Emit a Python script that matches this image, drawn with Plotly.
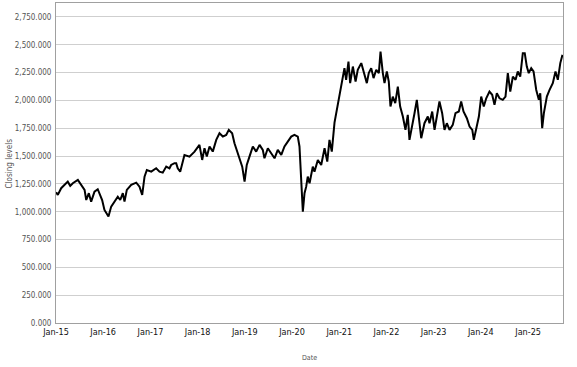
import plotly.graph_objects as go

dates = [
    "2015-01-02", "2015-01-15", "2015-02-10", "2015-03-07", "2015-04-02", "2015-04-21",
    "2015-05-11", "2015-06-19", "2015-07-15", "2015-08-10", "2015-08-23", "2015-09-12",
    "2015-09-30", "2015-10-26", "2015-11-20", "2015-12-09", "2015-12-24", "2016-01-11",
    "2016-01-29", "2016-02-11", "2016-03-03", "2016-03-29", "2016-04-23", "2016-05-12",
    "2016-06-01", "2016-06-14", "2016-07-02", "2016-08-05", "2016-09-13", "2016-10-08",
    "2016-10-29", "2016-11-16", "2016-12-04", "2017-01-07", "2017-02-14", "2017-03-12",
    "2017-04-06", "2017-05-03", "2017-05-28", "2017-06-10", "2017-07-06", "2017-07-19",
    "2017-07-31", "2017-08-19", "2017-09-21", "2017-10-30", "2017-12-08", "2018-01-15",
    "2018-02-05", "2018-02-23", "2018-03-13", "2018-04-03", "2018-04-28", "2018-05-25",
    "2018-06-19", "2018-07-15", "2018-08-10", "2018-08-30", "2018-09-25", "2018-10-13",
    "2018-11-08", "2018-11-26", "2018-12-12", "2018-12-30", "2019-01-16", "2019-02-06",
    "2019-03-04", "2019-03-30", "2019-04-25", "2019-05-20", "2019-06-02", "2019-06-28",
    "2019-07-24", "2019-08-19", "2019-09-13", "2019-10-10", "2019-11-04", "2019-11-30",
    "2019-12-26", "2020-01-20", "2020-02-15", "2020-02-28", "2020-03-12", "2020-03-25",
    "2020-04-07", "2020-04-20", "2020-05-02", "2020-05-16", "2020-06-10", "2020-06-23",
    "2020-07-19", "2020-08-14", "2020-09-09", "2020-09-30", "2020-10-17", "2020-11-04",
    "2020-11-25", "2020-12-21", "2021-01-16", "2021-02-10", "2021-02-23", "2021-03-13",
    "2021-03-26", "2021-04-16", "2021-05-07", "2021-05-24", "2021-06-20", "2021-07-15",
    "2021-08-02", "2021-08-17", "2021-09-05", "2021-09-23", "2021-10-14", "2021-11-03",
    "2021-11-16", "2021-12-04", "2021-12-17", "2022-01-04", "2022-01-19", "2022-02-01",
    "2022-02-19", "2022-03-10", "2022-03-30", "2022-04-17", "2022-05-08", "2022-05-28",
    "2022-06-15", "2022-06-28", "2022-07-19", "2022-08-06", "2022-08-24", "2022-09-08",
    "2022-09-27", "2022-10-22", "2022-11-17", "2022-11-30", "2022-12-21", "2023-01-08",
    "2023-02-02", "2023-02-15", "2023-03-08", "2023-03-26", "2023-04-13", "2023-05-04",
    "2023-05-29", "2023-06-19", "2023-07-15", "2023-08-02", "2023-08-20", "2023-09-15",
    "2023-10-06", "2023-10-27", "2023-11-08", "2023-11-27", "2023-12-17", "2024-01-04",
    "2024-01-24", "2024-02-12", "2024-03-03", "2024-03-08", "2024-03-29", "2024-04-16",
    "2024-05-04", "2024-05-25", "2024-06-19", "2024-07-10", "2024-07-28", "2024-08-16",
    "2024-09-05", "2024-09-26", "2024-10-13", "2024-11-01", "2024-11-21", "2024-12-06",
    "2024-12-22", "2025-01-06", "2025-01-25", "2025-02-12", "2025-03-05", "2025-03-25",
    "2025-04-05", "2025-04-20", "2025-05-03", "2025-05-26", "2025-06-16", "2025-07-11",
    "2025-08-01", "2025-08-19", "2025-09-07", "2025-09-24",
]

closing_levels = [
    1175, 1151, 1211, 1241, 1270, 1232,
    1256, 1285, 1241, 1196, 1105, 1166,
    1090, 1180, 1202, 1151, 1105, 1016,
    986, 956, 1046, 1090, 1135, 1105,
    1166, 1090, 1196, 1241, 1261, 1225,
    1151, 1315, 1375, 1360, 1390, 1360,
    1351, 1405, 1390, 1420, 1436, 1436,
    1390, 1360, 1510, 1495, 1540, 1600,
    1465, 1570, 1495, 1586, 1540, 1645,
    1705, 1675, 1690, 1735, 1705, 1615,
    1525, 1480, 1405, 1270, 1420, 1495,
    1586, 1540, 1600, 1555, 1480, 1570,
    1525, 1480, 1555, 1510, 1586, 1630,
    1675, 1690, 1675, 1586, 1285, 1000,
    1166, 1225, 1315, 1256, 1405, 1360,
    1465, 1420, 1570, 1450, 1645, 1540,
    1800, 1975, 2124, 2290, 2185, 2349,
    2155, 2304, 2169, 2275, 2335, 2230,
    2155, 2245, 2290, 2200, 2275, 2245,
    2439, 2245, 2155, 2260, 2169, 1945,
    2034, 1975, 2124, 1945, 1855, 1735,
    1870, 1645, 1765, 1885, 2005, 1825,
    1660, 1795, 1855, 1795, 1900, 1735,
    1885, 1990, 1885, 1735, 1795, 1735,
    1780, 1885, 1900, 1990, 1900, 1840,
    1765, 1735, 1645, 1765, 1855, 2034,
    1945, 2019, 2064, 2079, 2050, 1960,
    2064, 2019, 2005, 2034, 2245, 2079,
    2214, 2185, 2260, 2214, 2424, 2424,
    2304, 2245, 2290, 2260, 2094, 2005,
    2064, 1750, 1885, 2034, 2094, 2155,
    2260, 2185, 2335, 2409,
]

x_range = ["2015-01-01", "2025-09-28"]
y_range = [0, 2875]
y_ticks = [0, 250, 500, 750, 1000, 1250, 1500, 1750, 2000, 2250, 2500, 2750]

fig = go.Figure()
fig.add_trace(go.Scatter(
    x=dates, y=closing_levels, mode="lines",
    line=dict(color="black", width=2),
    showlegend=False, hoverinfo="skip",
))

font_family = "DejaVu Sans Condensed, DejaVu Sans"
fig.update_layout(
    width=577, height=367,
    margin=dict(l=56, r=14, t=3, b=44, autoexpand=False),
    paper_bgcolor="white", plot_bgcolor="white",
    font=dict(family=font_family, color="#444"),
)
fig.update_xaxes(
    range=x_range, type="date",
    tickformat="%b-%y", dtick="M12", tick0="2015-01-01",
    showgrid=False, showline=True, linecolor="#a0a0a0", linewidth=1, mirror=True,
    tickfont=dict(size=9, color="#111", family=font_family),
    zeroline=False, automargin=False,
)
fig.update_yaxes(
    range=y_range, tickvals=y_ticks, tickformat=",.3f",
    showgrid=True, gridcolor="#cfcfcf", gridwidth=1,
    showline=True, linecolor="#a0a0a0", linewidth=1, mirror=True,
    tickfont=dict(size=8, color="#555", family=font_family),
    zeroline=False, automargin=False, ticklabelstandoff=2,
)
fig.add_annotation(text="Closing levels", xref="paper", yref="paper",
                   x=-0.0918, y=0.5, textangle=-90, showarrow=False,
                   font=dict(size=8, color="#555", family=font_family),
                   xanchor="center", yanchor="middle")
fig.add_annotation(text="Date", xref="paper", yref="paper",
                   x=0.5, y=-0.1095, showarrow=False,
                   font=dict(size=7, color="#555", family=font_family),
                   xanchor="center", yanchor="middle")

fig.write_html("out.html", config={"displayModeBar": False},
               post_script="document.body.style.margin='0';document.body.style.padding='0';")
